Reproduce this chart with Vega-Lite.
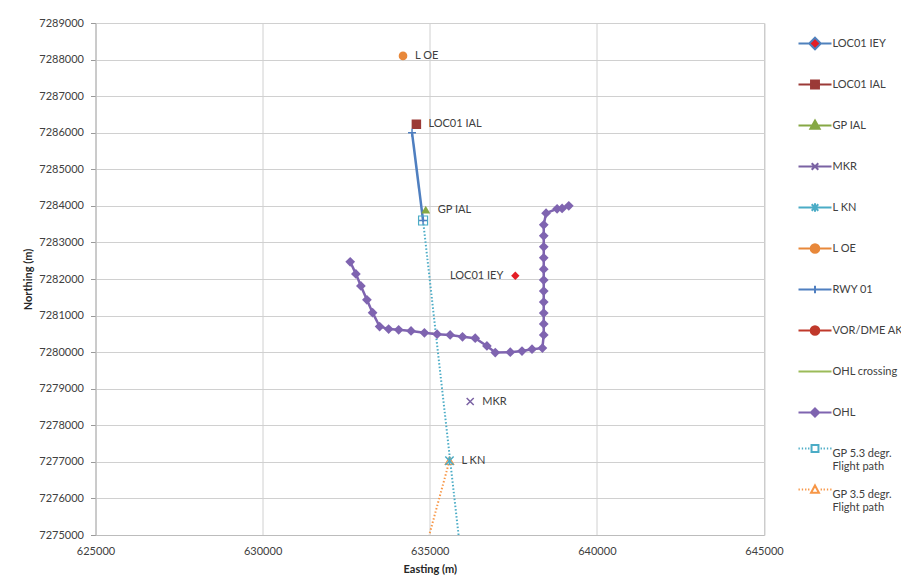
{
  "$schema": "https://vega.github.io/schema/vega-lite/v6.json",
  "width": 668.5,
  "height": 512,
  "autosize": {"type": "none"},
  "padding": {"left": 95.5, "top": 23, "right": 137, "bottom": 46},
  "background": "white",
  "data": {
    "values": [
      {"series": "LOC01 IEY", "E": 637560, "N": 7282090, "i": 1},
      {"series": "LOC01 IAL", "E": 634600, "N": 7286230, "i": 1},
      {"series": "GP IAL", "E": 634880, "N": 7283900, "i": 1},
      {"series": "MKR", "E": 636210, "N": 7278650, "i": 1},
      {"series": "L KN", "E": 635590, "N": 7277030, "i": 1},
      {"series": "L OE", "E": 634200, "N": 7288100, "i": 1},
      {"series": "RWY 01", "E": 634470, "N": 7286000, "i": 1},
      {"series": "RWY 01", "E": 634800, "N": 7283600, "i": 2},
      {"series": "OHL crossing", "E": 635050, "N": 7280520, "i": 1},
      {"series": "OHL crossing", "E": 635200, "N": 7280480, "i": 2},
      {"series": "GP 5.3 degr. Flight path", "E": 634800, "N": 7283600, "i": 1},
      {"series": "GP 5.3 degr. Flight path", "E": 635924, "N": 7274500, "i": 2},
      {"series": "GP 3.5 degr. Flight path", "E": 635590, "N": 7277030, "i": 1},
      {"series": "GP 3.5 degr. Flight path", "E": 634836, "N": 7274500, "i": 2},
      {"series": "OHL", "E": 632620, "N": 7282470, "i": 1},
      {"series": "OHL", "E": 632790, "N": 7282140, "i": 2},
      {"series": "OHL", "E": 632940, "N": 7281810, "i": 3},
      {"series": "OHL", "E": 633120, "N": 7281430, "i": 4},
      {"series": "OHL", "E": 633290, "N": 7281080, "i": 5},
      {"series": "OHL", "E": 633500, "N": 7280700, "i": 6},
      {"series": "OHL", "E": 633770, "N": 7280630, "i": 7},
      {"series": "OHL", "E": 634070, "N": 7280610, "i": 8},
      {"series": "OHL", "E": 634440, "N": 7280580, "i": 9},
      {"series": "OHL", "E": 634840, "N": 7280530, "i": 10},
      {"series": "OHL", "E": 635220, "N": 7280490, "i": 11},
      {"series": "OHL", "E": 635610, "N": 7280470, "i": 12},
      {"series": "OHL", "E": 635980, "N": 7280420, "i": 13},
      {"series": "OHL", "E": 636360, "N": 7280380, "i": 14},
      {"series": "OHL", "E": 636710, "N": 7280170, "i": 15},
      {"series": "OHL", "E": 636960, "N": 7279990, "i": 16},
      {"series": "OHL", "E": 637410, "N": 7280000, "i": 17},
      {"series": "OHL", "E": 637760, "N": 7280030, "i": 18},
      {"series": "OHL", "E": 638060, "N": 7280080, "i": 19},
      {"series": "OHL", "E": 638370, "N": 7280110, "i": 20},
      {"series": "OHL", "E": 638410, "N": 7280470, "i": 21},
      {"series": "OHL", "E": 638410, "N": 7280770, "i": 22},
      {"series": "OHL", "E": 638410, "N": 7281070, "i": 23},
      {"series": "OHL", "E": 638410, "N": 7281370, "i": 24},
      {"series": "OHL", "E": 638410, "N": 7281670, "i": 25},
      {"series": "OHL", "E": 638410, "N": 7281970, "i": 26},
      {"series": "OHL", "E": 638410, "N": 7282270, "i": 27},
      {"series": "OHL", "E": 638410, "N": 7282580, "i": 28},
      {"series": "OHL", "E": 638410, "N": 7282880, "i": 29},
      {"series": "OHL", "E": 638410, "N": 7283180, "i": 30},
      {"series": "OHL", "E": 638410, "N": 7283480, "i": 31},
      {"series": "OHL", "E": 638480, "N": 7283800, "i": 32},
      {"series": "OHL", "E": 638810, "N": 7283920, "i": 33},
      {"series": "OHL", "E": 638960, "N": 7283930, "i": 34},
      {"series": "OHL", "E": 639160, "N": 7284000, "i": 35}
    ]
  },
  "encoding": {
    "x": {
      "field": "E", "type": "quantitative",
      "scale": {"domain": [625000, 645000], "nice": false, "zero": false},
      "axis": {
        "title": "Easting (m)",
        "values": [625000, 630000, 635000, 640000, 645000],
        "format": "d",
        "ticks": false,
        "labelPadding": 10,
        "labelFlush": false,
        "titlePadding": 7
      }
    },
    "y": {
      "field": "N", "type": "quantitative",
      "scale": {"domain": [7275000, 7289000], "nice": false, "zero": false},
      "axis": {
        "title": "Northing (m)",
        "values": [7275000, 7276000, 7277000, 7278000, 7279000, 7280000, 7281000, 7282000, 7283000, 7284000, 7285000, 7286000, 7287000, 7288000, 7289000],
        "format": "d",
        "tickSize": 5,
        "labelPadding": 7,
        "titlePadding": 5
      }
    },
    "color": {
      "field": "series", "type": "nominal",
      "scale": {
        "domain": ["LOC01 IEY", "LOC01 IAL", "GP IAL", "MKR", "L KN", "L OE", "RWY 01", "OHL crossing", "OHL", "GP 5.3 degr. Flight path", "GP 3.5 degr. Flight path"],
        "range": ["#E41E26", "#9B3A37", "#86A844", "#7A62A3", "#4BACC6", "#E8883A", "#4F7FC0", "#9BBB59", "#7F64B0", "#4BACC6", "#F79646"]
      },
      "legend": null
    }
  },
  "layer": [
    {
      "transform": [{"filter": "datum.series == 'OHL crossing'"}],
      "mark": {"type": "line", "strokeWidth": 2, "clip": true},
      "encoding": {"order": {"field": "i", "type": "quantitative"}}
    },
    {
      "transform": [{"filter": "datum.series == 'OHL' || datum.series == 'RWY 01'"}],
      "mark": {"type": "line", "strokeWidth": 2.5, "clip": true},
      "encoding": {"order": {"field": "i", "type": "quantitative"}}
    },
    {
      "transform": [{"filter": "indexof(datum.series, 'Flight path') > 0"}],
      "mark": {"type": "line", "strokeWidth": 2, "strokeDash": [1.5, 2], "clip": true},
      "encoding": {"order": {"field": "i", "type": "quantitative"}}
    },
    {
      "transform": [{"filter": "datum.series == 'OHL'"}],
      "mark": {"type": "point", "shape": "diamond", "filled": true, "size": 95, "opacity": 1, "clip": true}
    },
    {
      "transform": [{"filter": "datum.series == 'LOC01 IEY'"}],
      "mark": {"type": "point", "shape": "diamond", "filled": true, "size": 70, "opacity": 1, "clip": true}
    },
    {
      "transform": [{"filter": "datum.series == 'LOC01 IAL'"}],
      "mark": {"type": "point", "shape": "square", "filled": true, "size": 90, "opacity": 1, "clip": true}
    },
    {
      "transform": [{"filter": "datum.series == 'GP IAL'"}],
      "mark": {"type": "point", "shape": "triangle-up", "filled": true, "size": 80, "opacity": 1, "clip": true}
    },
    {
      "transform": [{"filter": "datum.series == 'L OE'"}],
      "mark": {"type": "point", "shape": "circle", "filled": true, "size": 75, "opacity": 1, "clip": true}
    },
    {
      "transform": [{"filter": "datum.series == 'MKR'"}],
      "mark": {"type": "point", "shape": "M-1,-1L1,1M-1,1L1,-1", "filled": false, "size": 50, "strokeWidth": 1.5, "opacity": 1, "clip": true}
    },
    {
      "transform": [{"filter": "datum.series == 'RWY 01'"}],
      "mark": {"type": "point", "shape": "M-1,0L1,0M0,-1L0,1", "filled": false, "size": 64, "strokeWidth": 1.5, "opacity": 1, "clip": true}
    },
    {
      "transform": [{"filter": "datum.series == 'GP 5.3 degr. Flight path'"}],
      "mark": {"type": "point", "shape": "square", "filled": false, "size": 81, "strokeWidth": 1.2, "opacity": 1, "clip": true}
    },
    {
      "transform": [{"filter": "datum.series == 'GP 3.5 degr. Flight path'"}],
      "mark": {"type": "point", "shape": "triangle-up", "filled": false, "size": 70, "strokeWidth": 1.2, "opacity": 1, "clip": true}
    },
    {
      "transform": [{"filter": "datum.series == 'L KN'"}],
      "mark": {"type": "point", "shape": "M-1,-1L1,1M-1,1L1,-1M0,-1L0,1", "filled": false, "size": 70, "strokeWidth": 1.5, "opacity": 1, "clip": true}
    },
    {
      "transform": [{"filter": "indexof(['L OE', 'LOC01 IAL', 'GP IAL', 'MKR', 'L KN'], datum.series) >= 0"}],
      "mark": {"type": "text", "align": "left", "baseline": "middle", "dx": 12, "fontSize": 11, "font": "Lato"},
      "encoding": {"text": {"field": "series"}, "color": {"value": "#404040"}}
    },
    {
      "transform": [{"filter": "datum.series == 'LOC01 IEY'"}],
      "mark": {"type": "text", "align": "right", "baseline": "middle", "dx": -12, "fontSize": 11, "font": "Lato"},
      "encoding": {"text": {"field": "series"}, "color": {"value": "#404040"}}
    },
    {
      "transform": [{"filter": "false"}],
      "mark": {"type": "point", "filled": true, "strokeWidth": 2, "opacity": 1},
      "encoding": {
        "color": {"value": "black"},
        "fill": {
          "field": "series", "type": "nominal",
          "scale": {
            "domain": ["LOC01 IEY", "LOC01 IAL", "GP IAL", "MKR", "L KN", "L OE", "RWY 01", "VOR/DME AKI", "OHL crossing", "OHL", "GP 5.3 degr. Flight path", "GP 3.5 degr. Flight path"],
            "range": ["#E41E26", "#9B3A37", "#86A844", "transparent", "transparent", "#E8883A", "transparent", "#C0392B", "transparent", "#7F64B0", "transparent", "transparent"]
          },
          "legend": {
            "title": null, "orient": "right", "offset": 30, "padding": 3,
            "symbolSize": 1089, "symbolStrokeWidth": 2, "rowPadding": 0,
            "labelOffset": 0, "labelLimit": 300,
            "labelExpr": "indexof(datum.label, ' Flight path') > 0 ? [replace(datum.label, ' Flight path', ''), 'Flight path'] : datum.label"
          }
        },
        "stroke": {
          "field": "series", "type": "nominal",
          "scale": {
            "domain": ["LOC01 IEY", "LOC01 IAL", "GP IAL", "MKR", "L KN", "L OE", "RWY 01", "VOR/DME AKI", "OHL crossing", "OHL", "GP 5.3 degr. Flight path", "GP 3.5 degr. Flight path"],
            "range": ["#4F81BD", "#9B3A37", "#86A844", "#7A62A3", "#4BACC6", "#E8883A", "#4F7FC0", "#C0392B", "#9BBB59", "#7F64B0", "#4BACC6", "#F79646"]
          },
          "legend": {
            "title": null, "orient": "right", "offset": 30, "padding": 3,
            "symbolSize": 1089, "symbolStrokeWidth": 2, "rowPadding": 0,
            "labelOffset": 0, "labelLimit": 300,
            "labelExpr": "indexof(datum.label, ' Flight path') > 0 ? [replace(datum.label, ' Flight path', ''), 'Flight path'] : datum.label"
          }
        },
        "shape": {
          "field": "series", "type": "nominal",
          "scale": {
            "domain": ["LOC01 IEY", "LOC01 IAL", "GP IAL", "MKR", "L KN", "L OE", "RWY 01", "VOR/DME AKI", "OHL crossing", "OHL", "GP 5.3 degr. Flight path", "GP 3.5 degr. Flight path"],
            "range": [
              "M-1,-1M1,1M-1,0H-0.35M0.35,0H1M0,-0.35L0.35,0L0,0.35L-0.35,0Z",
              "M-1,-1M1,1M-1,0H1M-0.24,-0.24H0.24V0.24H-0.24Z",
              "M-1,-1M1,1M-1,0H1M0,-0.3L0.28,0.2H-0.28Z",
              "M-1,-1M1,1M-1,0H1M-0.2,-0.2L0.2,0.2M-0.2,0.2L0.2,-0.2",
              "M-1,-1M1,1M-1,0H1M-0.2,-0.2L0.2,0.2M-0.2,0.2L0.2,-0.2M0,-0.26V0.26",
              "M-1,-1M1,1M-1,0H1M0.26,0A0.26,0.26,0,1,1,-0.26,0A0.26,0.26,0,1,1,0.26,0Z",
              "M-1,-1M1,1M-1,0H1M0,-0.22V0.22",
              "M-1,-1M1,1M-1,0H1M0.26,0A0.26,0.26,0,1,1,-0.26,0A0.26,0.26,0,1,1,0.26,0Z",
              "M-1,-1M1,1M-1,0H1",
              "M-1,-1M1,1M-1,0H1M0,-0.25L0.25,0L0,0.25L-0.25,0Z",
              "M-1,-1M1,1M-1,-0.3h0.08M-0.8,-0.3h0.08M-0.6,-0.3h0.08M-0.42,-0.3h0.08M0.34,-0.3h0.08M0.52,-0.3h0.08M0.72,-0.3h0.08M0.92,-0.3h0.08M-0.21,-0.51H0.21V-0.09H-0.21Z",
              "M-1,-1M1,1M-1,-0.3h0.08M-0.8,-0.3h0.08M-0.6,-0.3h0.08M-0.42,-0.3h0.08M0.34,-0.3h0.08M0.52,-0.3h0.08M0.72,-0.3h0.08M0.92,-0.3h0.08M0,-0.55L0.24,-0.1H-0.24Z"
            ]
          },
          "legend": {
            "title": null, "orient": "right", "offset": 30, "padding": 3,
            "symbolSize": 1089, "symbolStrokeWidth": 2, "rowPadding": 0,
            "labelOffset": 0, "labelLimit": 300,
            "labelExpr": "indexof(datum.label, ' Flight path') > 0 ? [replace(datum.label, ' Flight path', ''), 'Flight path'] : datum.label"
          }
        }
      }
    }
  ],
  "config": {
    "font": "Lato",
    "view": {"stroke": "#c8c8c8"},
    "axis": {
      "labelFont": "Lato",
      "labelFontSize": 11,
      "labelColor": "#404040",
      "titleFont": "Lato",
      "titleFontSize": 11,
      "titleFontWeight": "bold",
      "titleColor": "#262626",
      "gridColor": "#d0d0d0",
      "domainColor": "#bcbcbc",
      "tickColor": "#9a9a9a"
    },
    "legend": {
      "labelFont": "Lato",
      "labelFontSize": 11,
      "labelColor": "#404040"
    }
  }
}
